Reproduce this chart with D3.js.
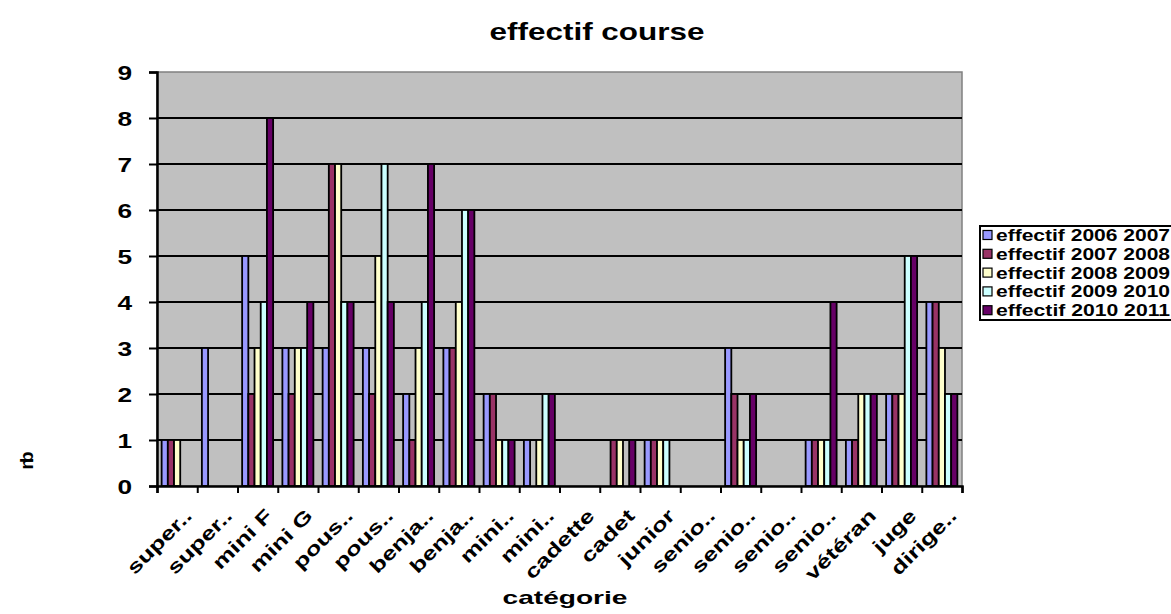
<!DOCTYPE html>
<html>
<head>
<meta charset="utf-8">
<script src="https://cdn.jsdelivr.net/npm/d3@7"></script>
<style>
  body { margin: 0; background: #fff; }
  text { font-family: "Liberation Sans", Arial, sans-serif; font-weight: bold; }
</style>
</head>
<body>
<div id="chart"></div>
<script>
// categories and series
var categories = ["super..", "super..", "mini F", "mini G", "pous..", "pous..", "benja..", "benja..",
  "mini..", "mini..", "cadette", "cadet", "junior", "senio..", "senio..", "senio..", "senio..",
  "vétéran", "juge", "dirige.."];

var seriesNames = ["effectif 2006 2007", "effectif 2007 2008", "effectif 2008 2009",
  "effectif 2009 2010", "effectif 2010 2011"];
var seriesColors = ["#9999ff", "#993366", "#ffffcc", "#ccffff", "#660066"];

var eff2006 = [1, 3, 5, 3, 3, 3, 2, 3, 2, 1, 0, 0, 1, 0, 3, 0, 1, 1, 2, 4];
var eff2007 = [1, 0, 2, 2, 7, 2, 1, 3, 2, 0, 0, 1, 1, 0, 2, 0, 1, 1, 2, 4];
var eff2008 = [1, 0, 3, 3, 7, 5, 3, 4, 1, 1, 0, 1, 1, 0, 1, 0, 1, 2, 2, 3];
var eff2009 = [0, 0, 4, 3, 4, 7, 4, 6, 1, 2, 0, 0, 1, 0, 1, 0, 1, 2, 5, 2];
var eff2010 = [0, 0, 8, 4, 4, 4, 7, 6, 1, 2, 0, 1, 0, 0, 2, 0, 4, 2, 5, 2];
var yTicks = [0, 1, 2, 3, 4, 5, 6, 7, 8, 9];

var allSeries = [eff2006, eff2007, eff2008, eff2009, eff2010];

// chart size
var svgWidth = 1171;
var svgHeight = 614;
var margin = { top: 72, right: 209, bottom: 128, left: 157 };
var width = svgWidth - margin.left - margin.right;
var height = svgHeight - margin.top - margin.bottom;

// the reference text is drawn wide, so stretch it a bit
var stretch = 1.35;

var svg = d3.select("#chart")
  .append("svg")
  .attr("width", svgWidth)
  .attr("height", svgHeight);

var chartGroup = svg.append("g")
  .attr("transform", `translate(${margin.left}, ${margin.top})`);

// scales
var x0 = d3.scaleBand()
  .domain(d3.range(categories.length))
  .range([0, width])
  .paddingInner(0.23)
  .paddingOuter(0.115);

var x1 = d3.scaleBand()
  .domain(d3.range(seriesNames.length))
  .range([0, x0.bandwidth()]);

var y = d3.scaleLinear()
  .domain([0, 9])
  .range([height, 0]);

// plot background
chartGroup.append("rect")
  .attr("width", width)
  .attr("height", height)
  .attr("fill", "#c0c0c0")
  .attr("stroke", "#808080")
  .attr("stroke-width", 1.5);

// gridlines (not at the top, that is the gray border)
chartGroup.selectAll(".grid")
  .data(yTicks.slice(1, -1))
  .enter()
  .append("line")
  .attr("x1", 0)
  .attr("x2", width)
  .attr("y1", d => y(d))
  .attr("y2", d => y(d))
  .attr("stroke", "#000")
  .attr("stroke-width", 2);

// bars
var rows = categories.map(function(c, i) {
  return allSeries.map(function(s, j) { return { cat: i, ser: j, value: s[i] }; });
});

chartGroup.selectAll(".cat")
  .data(rows)
  .enter()
  .append("g")
  .attr("transform", (d, i) => `translate(${x0(i)}, 0)`)
  .selectAll("rect")
  .data(d => d.filter(v => v.value > 0))
  .enter()
  .append("rect")
  .attr("x", d => x1(d.ser))
  .attr("y", d => y(d.value))
  .attr("width", x1.bandwidth())
  .attr("height", d => height - y(d.value))
  .attr("fill", d => seriesColors[d.ser])
  .attr("stroke", "#000")
  .attr("stroke-width", 1.8);

// y axis
var leftAxis = d3.axisLeft(y).tickValues(yTicks).tickSize(8).tickFormat(d3.format("d"));
var yAxisG = chartGroup.append("g").call(leftAxis);
yAxisG.select(".domain").attr("stroke-width", 2.5);
yAxisG.selectAll(".tick line").attr("stroke-width", 2);
yAxisG.selectAll("text")
  .attr("x", 0)
  .attr("transform", `translate(-25, 0) scale(${stretch - 0.1}, 1)`)
  .attr("dy", "0.36em")
  .style("font-size", "21px")
  .style("fill", "#000");

// x axis
var xTickScale = d3.scaleLinear().domain([0, categories.length]).range([0, width]);
var bottomAxis = d3.axisBottom(xTickScale).tickValues(d3.range(categories.length + 1))
  .tickSize(7).tickFormat("");
var xAxisG = chartGroup.append("g")
  .attr("transform", `translate(0, ${height})`)
  .call(bottomAxis);
xAxisG.select(".domain").attr("stroke-width", 2.5);
xAxisG.selectAll(".tick line").attr("stroke-width", 2);

// category labels
chartGroup.selectAll(".xlab")
  .data(categories)
  .enter()
  .append("text")
  .attr("transform", (d, i) =>
    `translate(${x0(i) + x0.bandwidth() / 2 + 16}, ${height + 31}) rotate(-45) scale(${stretch}, 1)`)
  .attr("text-anchor", "end")
  .style("font-size", "19px")
  .text(d => d);

// title
svg.append("text")
  .attr("x", 597)
  .attr("y", 40)
  .attr("text-anchor", "middle")
  .attr("textLength", 215)
  .attr("lengthAdjust", "spacingAndGlyphs")
  .style("font-size", "24px")
  .text("effectif course");

// x axis title
svg.append("text")
  .attr("x", 565)
  .attr("y", 604)
  .attr("text-anchor", "middle")
  .attr("textLength", 125)
  .attr("lengthAdjust", "spacingAndGlyphs")
  .style("font-size", "19px")
  .text("catégorie");

// y axis title (squashed in the reference)
svg.append("text")
  .attr("transform", "translate(33, 463) rotate(-90)")
  .attr("text-anchor", "middle")
  .style("font-size", "19px")
  .style("letter-spacing", "-5px")
  .text("nb");

// legend
var legend = svg.append("g").attr("transform", "translate(980, 226)");
legend.append("rect")
  .attr("width", 196)
  .attr("height", 94)
  .attr("fill", "#fff")
  .attr("stroke", "#000")
  .attr("stroke-width", 2);

var legendItem = legend.selectAll(".item")
  .data(seriesNames)
  .enter()
  .append("g")
  .attr("transform", (d, i) => `translate(3, ${9 + i * 18.8})`);

legendItem.append("rect")
  .attr("width", 9)
  .attr("height", 9)
  .attr("y", -4.5)
  .attr("fill", (d, i) => seriesColors[i])
  .attr("stroke", "#000")
  .attr("stroke-width", 1.2);

legendItem.append("text")
  .attr("x", 13)
  .attr("y", 6)
  .attr("textLength", 174)
  .attr("lengthAdjust", "spacingAndGlyphs")
  .style("font-size", "16px")
  .text(d => d);
</script>
</body>
</html>
